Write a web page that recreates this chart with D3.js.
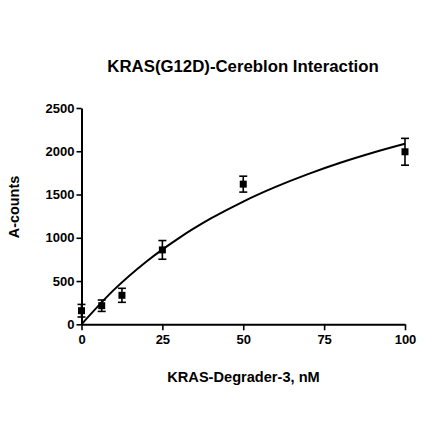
<!DOCTYPE html>
<html>
<head>
<meta charset="utf-8">
<script src="https://cdn.jsdelivr.net/npm/d3@7"></script>
<style>
  html, body { margin: 0; padding: 0; background: #fff; }
  svg { display: block; }
  text { font-family: "Liberation Sans", Arial, sans-serif; font-weight: bold; fill: #000; }
</style>
</head>
<body>
<svg id="chart" width="440" height="440"></svg>
<script>
// Data
const concentrations = [0, 6.25, 12.5, 25, 50, 100];
const meanCounts = [157, 215, 335, 860, 1620, 1994];
const errorCounts = [73, 66, 81, 108, 92, 155];

// Fitted curve, points
const fitX = [0, 10, 20, 30, 40, 50, 60, 70, 80, 90, 100];
const fitY = [0, 398, 724, 994, 1223, 1419, 1588, 1736, 1867, 1983, 2087];

const xTicks = [0, 25, 50, 75, 100];
const yTicks = [0, 500, 1000, 1500, 2000, 2500];

const titleText = "KRAS(G12D)-Cereblon Interaction";
const xLabel = "KRAS-Degrader-3, nM";
const yLabel = "A-counts";

const svg = d3.select("#chart");
const x = d3.scaleLinear().domain([0, 100]).range([81.5, 405]);
const y = d3.scaleLinear().domain([0, 2500]).range([324.3, 108]);

// Axes
const xAxis = d3.axisBottom(x).tickValues(xTicks).tickFormat(d3.format("d")).tickSize(6).tickSizeOuter(0).tickPadding(4);
const yAxis = d3.axisLeft(y).tickValues(yTicks).tickFormat(d3.format("d")).tickSize(5).tickSizeOuter(0).tickPadding(2);

const gx = svg.append("g").attr("transform", `translate(0,${y(0)})`).call(xAxis);
const gy = svg.append("g").attr("transform", `translate(${x(0)},0)`).call(yAxis);
[gx, gy].forEach(g => {
  g.select(".domain").attr("stroke", "#000").attr("stroke-width", 2);
  g.selectAll(".tick line").attr("stroke", "#000").attr("stroke-width", 1.6);
  g.selectAll(".tick text").style("font-family", "'Liberation Sans', Arial, sans-serif")
    .style("font-weight", "bold").style("font-size", "13px").attr("fill", "#000");
});
gx.selectAll(".tick text").attr("dy", "0.75em");

// Fit curve
const line = d3.line().x((d, i) => x(fitX[i])).y(d => y(d)).curve(d3.curveMonotoneX);
svg.append("path").datum(fitY).attr("d", line)
  .attr("fill", "none").attr("stroke", "#000").attr("stroke-width", 2);

// Error bars
const capW = 4;
const eb = svg.append("g").attr("stroke", "#000").attr("stroke-width", 1.6);
concentrations.forEach((c, i) => {
  const cx = x(c);
  const yt = y(meanCounts[i] + errorCounts[i]);
  const yb = y(meanCounts[i] - errorCounts[i]);
  eb.append("line").attr("x1", cx).attr("x2", cx).attr("y1", yt).attr("y2", yb);
  eb.append("line").attr("x1", cx - capW).attr("x2", cx + capW).attr("y1", yt).attr("y2", yt);
  eb.append("line").attr("x1", cx - capW).attr("x2", cx + capW).attr("y1", yb).attr("y2", yb);
});

// Square markers
const sq = 7;
svg.append("g").selectAll("rect").data(meanCounts).join("rect")
  .attr("x", (d, i) => x(concentrations[i]) - sq / 2)
  .attr("y", d => y(d) - sq / 2)
  .attr("width", sq).attr("height", sq).attr("fill", "#000");

// Titles
svg.append("text").attr("x", 243).attr("y", 71.5).attr("text-anchor", "middle")
  .style("font-size", "16.8px").text(titleText);
svg.append("text").attr("x", 243.5).attr("y", 381.5).attr("text-anchor", "middle")
  .style("font-size", "14.6px").text(xLabel);
svg.append("text").attr("transform", "translate(18.5,207) rotate(-90)").attr("text-anchor", "middle")
  .style("font-size", "14.4px").text(yLabel);
</script>
</body>
</html>
